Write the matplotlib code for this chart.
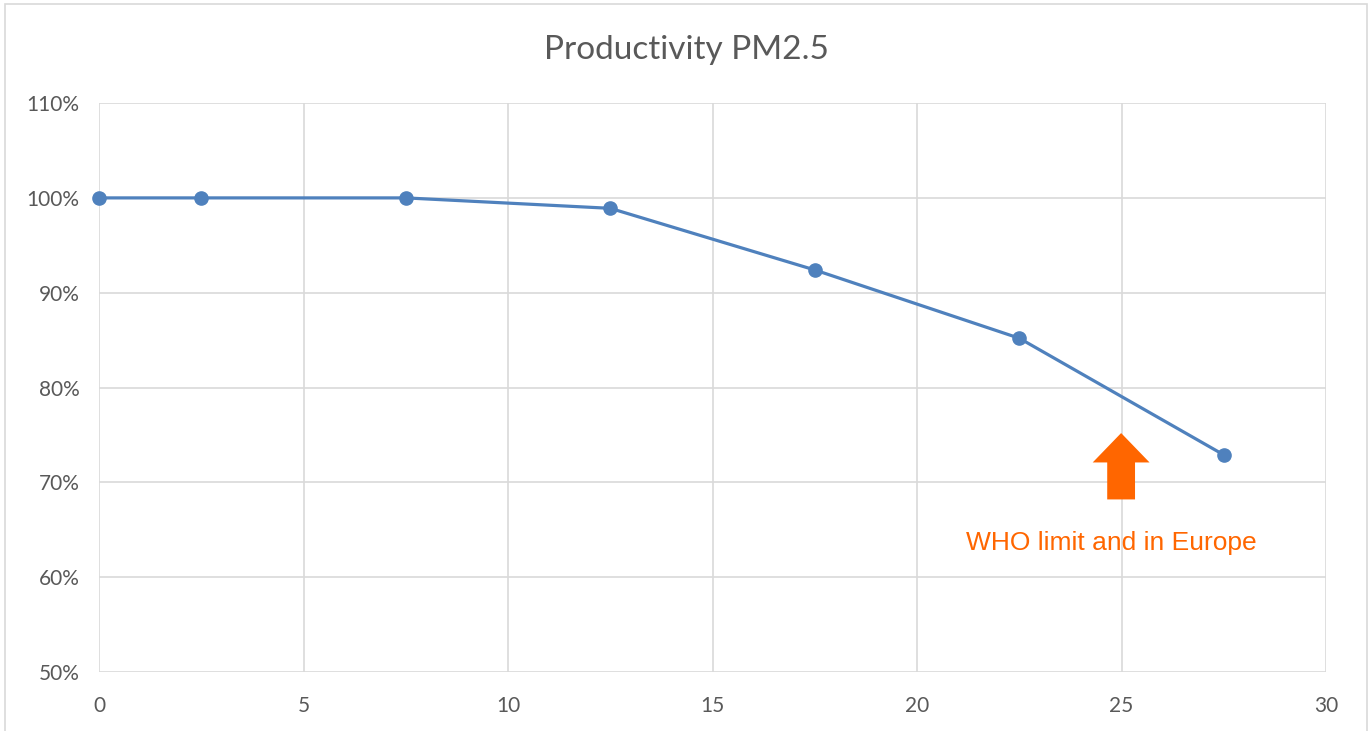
import matplotlib.pyplot as plt
from matplotlib.patches import Rectangle, FancyArrow
from matplotlib.ticker import FuncFormatter

# PM2.5 concentration vs productivity
pm25 = [0, 2.5, 7.5, 12.5, 17.5, 22.5, 27.5]
productivity = [1.00, 1.00, 1.00, 0.989, 0.924, 0.852, 0.729]

title = 'Productivity PM2.5'
note = 'WHO limit and in Europe'
who_limit = 25

plt.rcParams['font.family'] = ['Lato', 'DejaVu Sans']

fig = plt.figure(figsize=(13.7, 7.31), dpi=100)
ax = fig.add_axes([0.0723, 0.0807, 0.8956, 0.7783])

# outer chart border
fig.patches.append(Rectangle((0.004, -0.1), 0.994, 1.094, transform=fig.transFigure,
                             fill=False, edgecolor='#d9d9d9', linewidth=1.2))

ax.plot(pm25, productivity, color='#4f81bd', linewidth=2.3, marker='o',
        markersize=9.5, zorder=3, clip_on=False)

ax.set_xlim(0, 30)
ax.set_ylim(0.5, 1.1)
ax.set_xticks(range(0, 31, 5))
ax.set_yticks([0.5, 0.6, 0.7, 0.8, 0.9, 1.0, 1.1])
ax.yaxis.set_major_formatter(FuncFormatter(lambda v, p: f'{v*100:.0f}%'))
ax.grid(True, color='#d9d9d9', linewidth=1.2)
ax.set_axisbelow(True)
for s in ax.spines.values():
    s.set_visible(False)
ax.tick_params(length=0, labelsize=15, colors='#595959')
ax.tick_params(axis='x', pad=17)
ax.tick_params(axis='y', pad=14)

fig.text(0.5007, 0.932, title, ha='center', va='center', fontsize=24, color='#595959')

# arrow pointing at the WHO limit
ax.add_patch(FancyArrow(who_limit - 0.01, 0.682, 0, 0.070, width=0.68, head_width=1.39,
                        head_length=0.031, length_includes_head=True,
                        color='#ff6600', linewidth=0, zorder=4))
ax.text(who_limit - 0.26, 0.636, note, ha='center', va='center', fontsize=19,
        color='#ff6600', family=['Liberation Sans', 'DejaVu Sans'])

fig.savefig('out.png', dpi=100)
